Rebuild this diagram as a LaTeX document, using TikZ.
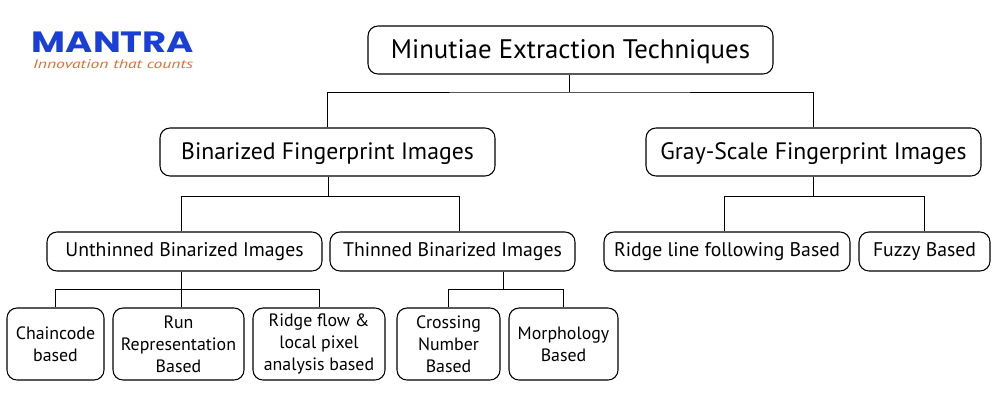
\documentclass[tikz,border=0pt]{standalone}
\usepackage{fontspec}
\setmainfont{PT Sans}
\newfontfamily\logofont{Poppins}
\definecolor{logoblue}{RGB}{26,63,214}
\definecolor{logoorange}{RGB}{222,110,50}
\tikzset{
  bigbox/.style={draw,rounded corners=7.5,line width=0.8pt,text height=13pt,text depth=2pt,font=\fontsize{17.8}{22}\selectfont},
  rootbox/.style={bigbox,text height=14.5pt,text depth=2.5pt,font=\fontsize{20.1}{24}\selectfont},
  midbox/.style={draw,rounded corners=7.5,line width=0.8pt,text height=10.5pt,text depth=2.3pt,font=\fontsize{14.8}{17}\selectfont},
  smallbox/.style={draw,rounded corners=7.5,line width=0.8pt,align=center,font=\fontsize{13.4}{16.5}\selectfont},
  wire/.style={line width=0.65pt}
}
\newcommand{\boxnode}[7]{\node[#1,minimum width=#4*0.75pt,minimum height=#5*0.75pt,inner sep=0pt] (#2) at (#6,#7) {#3};}
\begin{document}
\begin{tikzpicture}[x=0.75pt,y=-0.75pt]
\useasboundingbox (0,0) rectangle (1000,400);
% logo
\node[logoblue,font=\logofont\bfseries\fontsize{22}{22}\selectfont,inner sep=0pt,xscale=1.26] (logoname) at (113,42) {MANTRA};
\node[logoorange,font=\itshape\fontsize{9.4}{10}\selectfont,inner sep=0pt,xscale=1.4] (logotag) at (113,64) {Innovation that counts};
% top level
\boxnode{rootbox}{root}{Minutiae Extraction Techniques}{405}{48}{570.5}{50}
\boxnode{bigbox}{binary}{Binarized Fingerprint Images}{335}{48}{327.5}{152}
\boxnode{bigbox}{gray}{Gray-Scale Fingerprint Images}{335}{48}{813.5}{152}
% second level
\boxnode{midbox}{unthin}{Unthinned Binarized Images}{275}{39}{184.5}{251.5}
\boxnode{midbox}{thin}{Thinned Binarized Images}{245}{39}{452.5}{251.5}
\boxnode{midbox}{ridge}{Ridge line following Based}{246}{39}{727}{251.5}
\boxnode{midbox}{fuzzy}{Fuzzy Based}{131}{39}{924.5}{251.5}
% third level
\boxnode{smallbox}{chain}{Chaincode\\based}{97}{72}{55.5}{344}
\boxnode{smallbox}{run}{Run\\Representation\\Based}{131}{72}{178.5}{344}
\boxnode{smallbox}{flow}{Ridge flow \&\\local pixel\\analysis based}{132}{72}{319}{344}
\boxnode{smallbox}{cross}{Crossing\\Number\\Based}{103}{72}{448.5}{344}
\boxnode{smallbox}{morph}{Morphology\\Based}{109}{72}{563.5}{344}
% junctions
\coordinate (rootbus) at (569,92);
\coordinate (binbus) at (328,196);
\coordinate (binleft) at (181,196);
\coordinate (binright) at (459,196);
\coordinate (graybus) at (813,196);
\coordinate (grayleft) at (724,196);
\coordinate (unthbus) at (181,289.5);
\coordinate (thinbus) at (503,289.5);
% connectors
\draw[wire] (root.south -| rootbus) -- (rootbus);
\draw[wire] (binary.north) |- (rootbus) -| (gray.north);
\draw[wire] (binary.south -| binbus) -- (binbus);
\draw[wire] (unthin.north -| binleft) -- (binleft) -- (binright) -- (thin.north -| binright);
\draw[wire] (gray.south -| graybus) -- (graybus);
\draw[wire] (ridge.north -| grayleft) -- (grayleft) -| (fuzzy.north);
\draw[wire] (unthin.south -| unthbus) -- (run.north -| unthbus);
\draw[wire] (chain.north) |- (unthbus) -| (flow.north);
\draw[wire] (thin.south -| thinbus) -- (thinbus);
\draw[wire] (cross.north) |- (thinbus) -| (morph.north);
\end{tikzpicture}
\end{document}
